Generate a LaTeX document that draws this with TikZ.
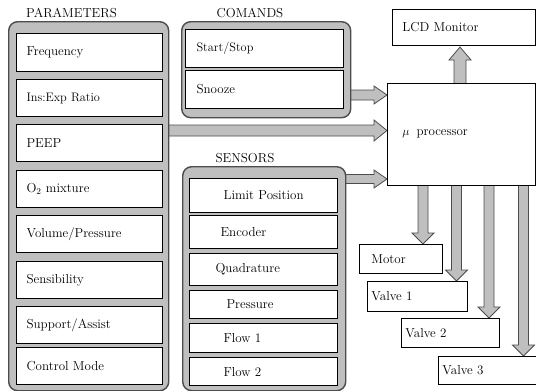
\documentclass[tikz,border=0pt]{standalone}
\usepackage{fontspec}
\usetikzlibrary{calc,backgrounds}

% fat block arrow pointing right: start, tip, shaft half-width, head half-width
\newcommand\rightfat[4]{%
  \draw[fat] ($(#1)+(0,-#3)$) -- ($(#2)+(-13,-#3)$) -- ($(#2)+(-13,-#4)$) -- (#2)
    -- ($(#2)+(-13,#4)$) -- ($(#2)+(-13,#3)$) -- ($(#1)+(0,#3)$) -- cycle;}
% fat vertical arrow: start, tip, shaft half-width, head half-width, offset from tip to head base
\newcommand\vertfat[5]{%
  \draw[fat] ($(#1)+(-#3,0)$) -- ($(#2)+(-#3,#5)$) -- ($(#2)+(-#4,#5)$) -- (#2)
    -- ($(#2)+(#4,#5)$) -- ($(#2)+(#3,#5)$) -- ($(#1)+(#3,0)$) -- cycle;}

\begin{document}
\begin{tikzpicture}[x=1pt,y=-1pt,
  font=\fontsize{13}{15}\selectfont,
  group/.style={draw=black!70, line width=1.4pt, fill=black!25, rounded corners=9pt,
    anchor=north west, inner sep=0pt},
  item/.style={draw=black, line width=1.1pt, fill=white, anchor=north west,
    inner ysep=0pt, align=left},
  sensor/.style={item, minimum width=148pt, inner xsep=4pt, text width=140pt},
  unit/.style={draw=black, line width=0.9pt, fill=white, anchor=north west,
    inner ysep=0pt, align=left},
  fat/.style={draw=black!70, line width=0.8pt, fill=black!25, line join=miter},
  title/.style={inner sep=0pt},
  smalltext/.style={font=\fontsize{12.3}{14}\selectfont}
]
\useasboundingbox (0,0) rectangle (536,391);

% group titles
\node[title] (tpar) at (71.5,13) {PARAMETERS};
\node[title] (tcmd) at (250,13) {COMANDS};
\node[title] (tsen) at (245,158) {SENSORS};

% parameters
\node[group, minimum width=160pt, minimum height=369pt] (par) at (8,21) {};
\node[item, minimum width=146pt, minimum height=38pt, inner xsep=10pt, text width=126pt] (p1) at (16,33) {Frequency};
\node[item, minimum width=146pt, minimum height=37pt, inner xsep=10pt, text width=126pt, smalltext] (p2) at (16,79) {Ins:Exp Ratio};
\node[item, minimum width=146pt, minimum height=37pt, inner xsep=10pt, text width=126pt] (p3) at (16,124) {PEEP};
\node[item, minimum width=146pt, minimum height=37pt, inner xsep=10pt, text width=126pt] (p4) at (16,170) {O$_2$ mixture};
\node[item, minimum width=146pt, minimum height=37pt, inner xsep=10pt, text width=126pt] (p5) at (16,215) {Volume/Pressure};
\node[item, minimum width=146pt, minimum height=37pt, inner xsep=10pt, text width=126pt] (p6) at (16,261) {Sensibility};
\node[item, minimum width=146pt, minimum height=37pt, inner xsep=10pt, text width=126pt] (p7) at (16,306) {Support/Assist};
\node[item, minimum width=146pt, minimum height=37pt, inner xsep=10pt, text width=126pt] (p8) at (16,347) {Control Mode};

% commands
\node[group, minimum width=169pt, minimum height=96pt] (cmd) at (181,21) {};
\node[item, minimum width=158pt, minimum height=38pt, inner xsep=11pt, text width=136pt, smalltext] (c1) at (185,29) {Start/Stop};
\node[item, minimum width=158pt, minimum height=38pt, inner xsep=11pt, text width=136pt] (c2) at (185,70) {Snooze};

% sensors
\node[group, minimum width=163pt, minimum height=224pt] (sen) at (182,166) {};
\node[sensor, minimum height=34pt] (s1) at (189,178) {\hspace*{30pt}Limit Position};
\node[sensor, minimum height=33pt] (s2) at (189,215) {\hspace*{27pt}Encoder};
\node[sensor, minimum height=32pt] (s3) at (189,253) {\hspace*{22pt}Quadrature};
\node[sensor, minimum height=28pt] (s4) at (189,290) {\hspace*{33pt}\raisebox{-3pt}{Pressure}};
\node[sensor, minimum height=29pt] (s5) at (189,323) {\hspace*{30pt}\raisebox{-3pt}{Flow 1}};
\node[sensor, minimum height=28pt] (s6) at (189,357) {\hspace*{30pt}\raisebox{-2pt}{Flow 2}};

% processor, display and actuators
\node[unit, minimum width=143pt, minimum height=36pt, inner xsep=10pt, text width=123pt] (lcd) at (392,9) {LCD Monitor};
\node[unit, minimum width=148pt, minimum height=102pt, inner xsep=15pt, text width=118pt] (proc) at (387,83) {\raisebox{3pt}{$\mu$\hspace{7pt}processor}};
\node[unit, minimum width=83pt, minimum height=29pt, inner xsep=12pt, text width=59pt] (motor) at (359,244) {Motor};
\node[unit, minimum width=100pt, minimum height=30pt, inner xsep=4pt, text width=92pt] (v1) at (367,281) {Valve 1};
\node[unit, minimum width=98pt, minimum height=29pt, inner xsep=4pt, text width=90pt] (v2) at (401,318) {Valve 2};
\node[unit, minimum width=97.5pt, minimum height=28pt, inner xsep=4pt, text width=89.5pt] (v3) at (438,356) {Valve 3};

% block arrows
\begin{scope}[on background layer]
  \coordinate (aC) at (346,95);    \coordinate (aCt) at (proc.west |- aC);
  \coordinate (aP) at (164,130.5); \coordinate (aPt) at (proc.west |- aP);
  \coordinate (aS) at (341,179);   \coordinate (aSt) at (proc.west |- aS);
  \rightfat{aC}{aCt}{5}{9}
  \rightfat{aP}{aPt}{5.5}{10.5}
  \rightfat{aS}{aSt}{4.5}{9}

  \coordinate (uS) at (460,87);  \coordinate (uT) at (460,47);
  \vertfat{uS}{uT}{6}{11}{13}

  \coordinate (d1) at (423,181);   \coordinate (d1t) at (d1 |- motor.north);
  \coordinate (d2) at (456.5,181); \coordinate (d2t) at (d2 |- v1.north);
  \coordinate (d3) at (489,181);   \coordinate (d3t) at (d3 |- v2.north);
  \coordinate (d4) at (523.5,181); \coordinate (d4t) at (d4 |- v3.north);
  \vertfat{d1}{d1t}{5}{11}{-11}
  \vertfat{d2}{d2t}{5}{11}{-11}
  \vertfat{d3}{d3t}{5}{11}{-11}
  \vertfat{d4}{d4t}{5}{11}{-11}
\end{scope}
\end{tikzpicture}
\end{document}
